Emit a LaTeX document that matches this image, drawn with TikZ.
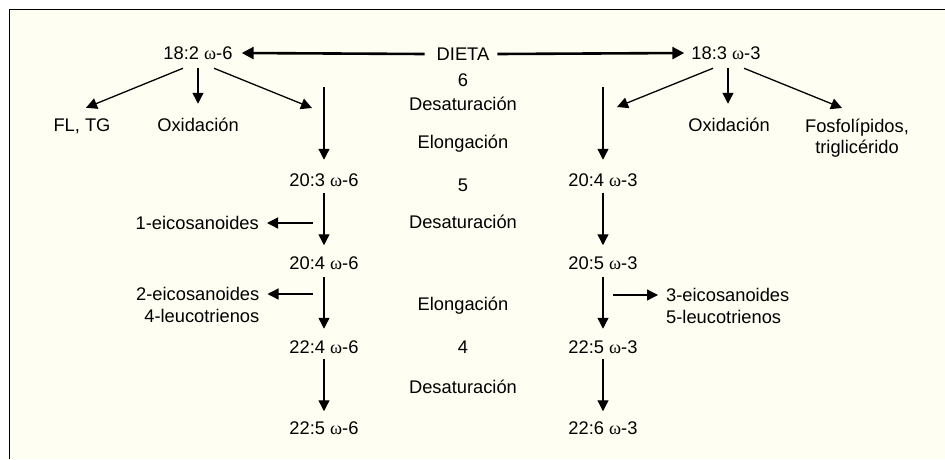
\documentclass[tikz,border=0pt]{standalone}
\usepackage{fontspec}
\setmainfont{Liberation Sans}
\newfontfamily\omfont{Liberation Serif}
\usetikzlibrary{arrows.meta,calc}
\definecolor{cream}{HTML}{FFFEF3}
\newcommand{\om}{{\omfont ω}}
\begin{document}
\begin{tikzpicture}[x=1pt,y=-1pt,
  lbl/.style={inner sep=0pt, font=\fontsize{18.3}{21.5}\selectfont, text height=13.1pt, text depth=0pt},
  mlbl/.style={inner sep=0pt, font=\fontsize{18.3}{21.5}\selectfont},
  arr/.style={line width=1.3pt, -{Triangle[length=11pt,width=11pt]}},
  bigarr/.style={line width=2.6pt, -{Triangle[length=12pt,width=12pt]}}]
\useasboundingbox (0,0) rectangle (945,459);
\fill[white] (0,0) rectangle (945,459);
\fill[cream] (9,9) rectangle (945,459);
\draw[line width=0.9pt] (9,459) -- (9,9) -- (945,9);

% top row
\node[lbl] (dieta) at (463,54) {DIETA};
\node[lbl] (a182) at (198,53) {18:2 \om-6};
\node[lbl] (a183) at (726,53) {18:3 \om-3};
\draw[bigarr] ([xshift=-12pt]dieta.west) -- ([xshift=9pt]a182.east);
\draw[bigarr] ([xshift=8pt]dieta.east) -- ([xshift=-7pt]a183.west);

% second row
\node[lbl] (fltg) at (82,125) {FL, TG};
\node[lbl] (oxl) at (198,125) {Oxidación};
\node[lbl] (oxr) at (729,125) {Oxidación};
\node[mlbl, align=center, anchor=north] (fos) at (857,118.5) {Fosfolípidos,\\triglicérido};
\coordinate (lt) at (312,108);
\coordinate (rt) at (617,107);
\draw[arr] ([xshift=-15pt,yshift=-8.5pt]a182.south) -- ([xshift=4pt,yshift=10.5pt]fltg.north);
\draw[arr] ([yshift=-8.5pt]a182.south) -- ([yshift=14.5pt]oxl.north);
\draw[arr] ([xshift=16pt,yshift=-8.5pt]a182.south) -- (lt);
\draw[arr] ([xshift=-13pt,yshift=-8.5pt]a183.south) -- (rt);
\draw[arr] ([xshift=2pt,yshift=-8.5pt]a183.south) -- ([xshift=-1pt,yshift=14.5pt]oxr.north);
\draw[arr] ([xshift=18pt,yshift=-8.5pt]a183.south) -- ([xshift=-15pt,yshift=10.5pt]fos.north);

% centre column
\node[lbl] (n6) at (463,80) {6};
\node[lbl] (d6) at (463,104) {Desaturación};
\node[lbl] (el1) at (463,142) {Elongación};
\node[lbl] (n5) at (463,185) {5};
\node[lbl] (d5) at (463,222) {Desaturación};
\node[lbl] (el2) at (463,304) {Elongación};
\node[lbl] (n4) at (463,347) {4};
\node[lbl] (d4) at (463,387) {Desaturación};

% left chain
\coordinate (l0) at (324,87);
\node[lbl] (l1) at (324,180) {20:3 \om-6};
\node[lbl] (l2) at (324,263) {20:4 \om-6};
\node[lbl] (l3) at (324,347) {22:4 \om-6};
\node[lbl] (l4) at (324,428) {22:5 \om-6};
\draw[arr] (l0) -- ([yshift=13.5pt]l1.north);
\draw[arr] ([yshift=-6.5pt]l1.south) -- ([yshift=11pt]l2.north);
\draw[arr] ([yshift=-7pt]l2.south) -- ([yshift=11.5pt]l3.north);
\draw[arr] ([yshift=-5.5pt]l3.south) -- ([yshift=10pt]l4.north);

% right chain
\coordinate (r0) at (603,87);
\node[lbl] (r1) at (603,180) {20:4 \om-3};
\node[lbl] (r2) at (603,263) {20:5 \om-3};
\node[lbl] (r3) at (603,347) {22:5 \om-3};
\node[lbl] (r4) at (603,428) {22:6 \om-3};
\draw[arr] (r0) -- ([yshift=13.5pt]r1.north);
\draw[arr] ([yshift=-6.5pt]r1.south) -- ([yshift=11pt]r2.north);
\draw[arr] ([yshift=-7pt]r2.south) -- ([yshift=11.5pt]r3.north);
\draw[arr] ([yshift=-5.5pt]r3.south) -- ([yshift=10pt]r4.north);

% side products
\coordinate (e1s) at (313,223);
\node[lbl, anchor=east] (e1) at (259,223) {1-eicosanoides};
\draw[arr] (e1s) -- ([xshift=8pt]e1.east);
\coordinate (e2s) at (313,294);
\node[mlbl, align=right, anchor=north east] (e2) at (259.5,287.5) {2-eicosanoides\\4-leucotrienos};
\draw[arr] (e2s) -- ($(e2.north east |- e2s)+(8,0)$);
\coordinate (e3s) at (613,295);
\node[mlbl, align=left, anchor=north west] (e3) at (666,288.5) {3-eicosanoides\\5-leucotrienos};
\draw[arr] (e3s) -- ($(e3.north west |- e3s)+(-8,0)$);
\end{tikzpicture}
\end{document}
